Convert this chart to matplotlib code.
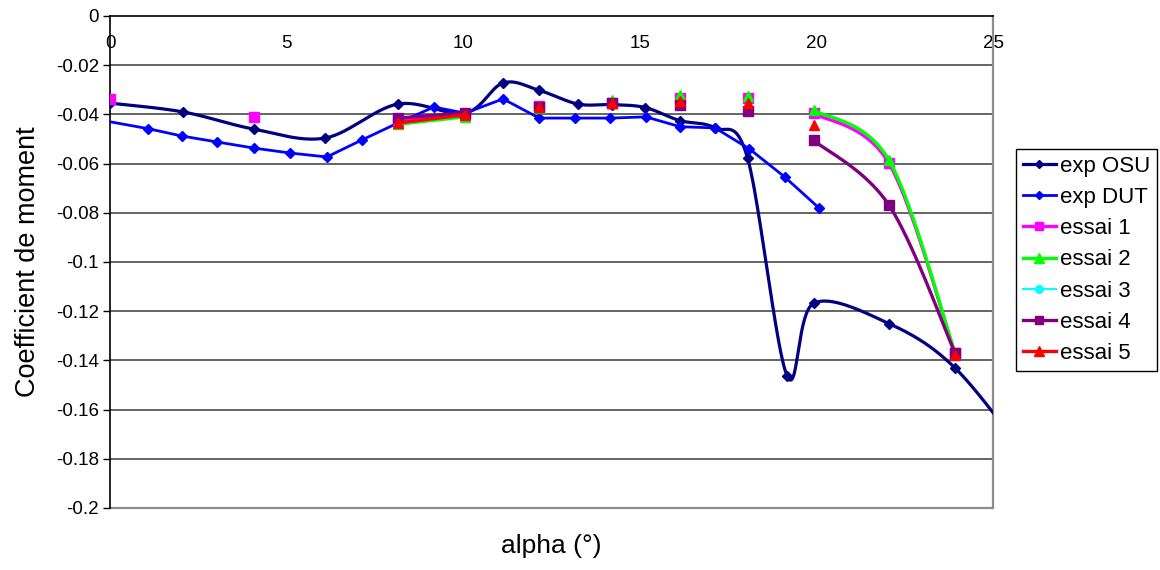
import numpy as np
import matplotlib
matplotlib.use("Agg")
import matplotlib.pyplot as plt
from matplotlib.lines import Line2D

plt.rcParams['font.family'] = ['Liberation Sans', 'DejaVu Sans']

# --- data -------------------------------------------------------------
osu_alpha = [0.0, 2.07, 4.08, 6.09, 8.15, 10.05, 11.13, 12.15, 13.25, 14.2,
             15.15, 16.13, 17.13, 18.05, 19.17, 19.92, 22.05, 23.92, 26.0]
osu_cm = [-0.0354, -0.0390, -0.0460, -0.0496, -0.0358, -0.0395, -0.0272,
          -0.0302, -0.0358, -0.0360, -0.0372, -0.0425, -0.0455, -0.0577,
          -0.1463, -0.1168, -0.1250, -0.1430, -0.1800]

dut_alpha = [0.0, 1.08, 2.04, 3.03, 4.08, 5.1, 6.14, 7.13, 8.15, 9.17, 10.05,
             11.13, 12.15, 13.17, 14.17, 15.17, 16.14, 17.13, 18.1, 19.1, 20.07]
dut_cm = [-0.0430, -0.0458, -0.0488, -0.0512, -0.0537, -0.0557, -0.0573,
          -0.0504, -0.0435, -0.0370, -0.0395, -0.0337, -0.0415, -0.0415,
          -0.0415, -0.0410, -0.0450, -0.0455, -0.0540, -0.0654, -0.0780]

essai_alpha = [0.0, 4.08, 8.15, 10.05, 12.15, 14.2, 16.13, 18.05, 19.92, 22.05, 23.92]
nan = np.nan
essai_1 = [-0.0337, -0.0412, -0.0425, -0.0400, -0.0366, -0.0353, -0.0334,
           -0.0334, -0.0395, -0.0598, -0.1368]
essai_2 = [nan, nan, -0.0440, -0.0410, -0.0375, -0.0340, -0.0322, -0.0325,
           -0.0382, -0.0585, -0.1368]
essai_3 = [nan, nan, nan, nan, nan, nan, nan, nan, nan, nan, nan]
essai_4 = [nan, nan, -0.0415, -0.0394, -0.0368, -0.0355, -0.0360, -0.0387,
           -0.0505, -0.0768, -0.1368]
essai_5 = [nan, nan, -0.0435, -0.0402, -0.0370, -0.0355, -0.0345, -0.0355,
           -0.0443, nan, -0.1378]

# runs of essai points that are joined by a line
linked_runs = [[2, 3], [8, 9, 10]]

x_ticks = [0, 5, 10, 15, 20, 25]
y_ticks = [0, -0.02, -0.04, -0.06, -0.08, -0.1, -0.12, -0.14, -0.16, -0.18, -0.2]
y_tick_labels = ['0', '-0.02', '-0.04', '-0.06', '-0.08', '-0.1', '-0.12',
                 '-0.14', '-0.16', '-0.18', '-0.2']


def smooth(x, y, n=40):
    """Piecewise cubic Bezier through the points (spreadsheet-style smoothing)."""
    P = np.column_stack([x, y]).astype(float)
    m = len(P)
    if m < 3:
        return P
    out = [P[0]]
    t = np.linspace(0, 1, n)[1:, None]
    for i in range(m - 1):
        p0 = P[i - 1] if i > 0 else P[i]
        p1, p2 = P[i], P[i + 1]
        p3 = P[i + 2] if i + 2 < m else P[i + 1]
        c1 = p1 + (p2 - p0) / 6.0
        c2 = p2 - (p3 - p1) / 6.0
        seg = (1 - t) ** 3 * p1 + 3 * (1 - t) ** 2 * t * c1 \
            + 3 * (1 - t) * t ** 2 * c2 + t ** 3 * p2
        out.extend(seg)
    return np.array(out)


W, H = 1160, 570
fig = plt.figure(figsize=(W / 100, H / 100), dpi=100)
L, R, T, B = 110, 993, 16, 508
ax = fig.add_axes([L / W, 1 - B / H, (R - L) / W, (B - T) / H])
ax.set_xlim(0, 25)
ax.set_ylim(-0.2, 0)

# horizontal grid
for v in y_ticks[1:-1]:
    ax.axhline(v, color='#3a3a3a', lw=1.1, zorder=1)
ax.axhline(-0.2, color='#8c8c8c', lw=1.6, zorder=1, clip_on=False)

# spines: x axis crosses at y = 0 (top), plot frame right/bottom in grey
ax.spines['bottom'].set_position(('data', 0))
ax.spines['bottom'].set_color('black')
ax.spines['bottom'].set_linewidth(1.2)
ax.spines['top'].set_visible(False)
ax.spines['left'].set_color('black')
ax.spines['left'].set_linewidth(1.2)
ax.spines['right'].set_color('#8c8c8c')
ax.spines['right'].set_linewidth(1.6)

ax.set_xticks(x_ticks)
ax.set_xticklabels([str(v) for v in x_ticks])
ax.set_yticks(y_ticks)
ax.set_yticklabels(y_tick_labels)
ax.tick_params(axis='x', length=0, pad=14, labelsize=13.5)
ax.tick_params(axis='y', length=5, width=1, direction='out', pad=3, labelsize=13.5)

# exp OSU (smoothed)
s = smooth(osu_alpha, osu_cm)
ax.plot(s[:, 0], s[:, 1], color='#000080', lw=2.3, zorder=3)
ax.plot(osu_alpha, osu_cm, ls='none', marker='D', ms=5.5, color='#000080', zorder=3)

# exp DUT
ax.plot(dut_alpha, dut_cm, color='#0000FF', lw=2.0, zorder=3,
        marker='D', ms=5.5, markevery=slice(1, None))

essais = [
    (essai_1, '#FF00FF', 's', 6.5, 'essai 1'),
    (essai_2, '#00FF00', '^', 7.5, 'essai 2'),
    (essai_3, '#00FFFF', 'o', 6.5, 'essai 3'),
    (essai_4, '#800080', 's', 6.5, 'essai 4'),
    (essai_5, '#FF0000', '^', 7.5, 'essai 5'),
]
z = 4
for vals, col, mk, ms, lab in essais:
    a = np.asarray(essai_alpha, float)
    v = np.asarray(vals, float)
    for run in linked_runs:
        idx = [i for i in run if not np.isnan(v[i])]
        if len(idx) == len(run) and len(idx) >= 2:
            s = smooth(a[idx], v[idx])
            ax.plot(s[:, 0], s[:, 1], color=col, lw=2.4, zorder=z)
    ok = ~np.isnan(v)
    if ok.any():
        ax.plot(a[ok], v[ok], ls='none', marker=mk, ms=ms, color=col,
                mec=col, zorder=z + 0.5)
    z += 1

# legend
handles = [
    Line2D([], [], color='#000080', lw=2.3, marker='D', ms=4.5),
    Line2D([], [], color='#0000FF', lw=2.0, marker='D', ms=4.5),
]
labels = ['exp OSU', 'exp DUT']
for vals, col, mk, ms, lab in essais:
    handles.append(Line2D([], [], color=col, lw=2.4 if mk != 'o' else 1.5,
                          marker=mk, ms=ms - 1))
    labels.append(lab)
leg = fig.legend(handles, labels, loc='upper left',
                 bbox_to_anchor=(1016 / W, 1 - 149 / H),
                 frameon=True, fancybox=False, framealpha=1,
                 edgecolor='black', fontsize=16, handlelength=1.5,
                 handletextpad=0.2, labelspacing=0.46, borderpad=0.3,
                 borderaxespad=0)
leg.get_frame().set_linewidth(1.0)

fig.text(551 / W, 1 - 546 / H, 'alpha (°)', ha='center', va='center', fontsize=19)
fig.text(28 / W, 1 - 262 / H, 'Coefficient de moment', ha='center', va='center',
         rotation=90, fontsize=19.5)

fig.savefig('out.png', dpi=100)
